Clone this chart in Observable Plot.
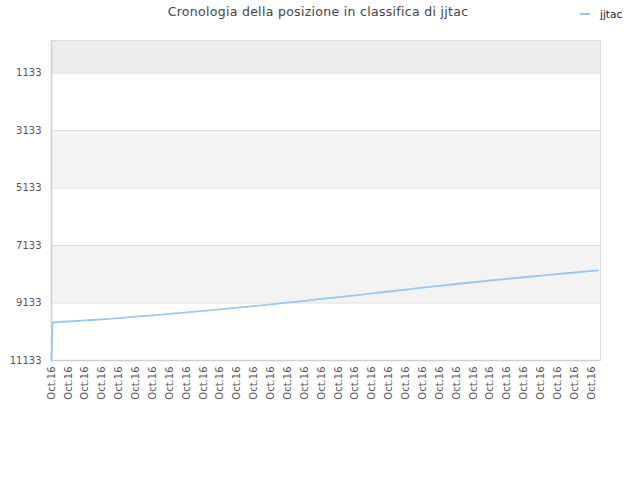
<!DOCTYPE html>
<html>
<head>
<meta charset="utf-8">
<script src="https://cdn.jsdelivr.net/npm/d3@7"></script>
<script src="https://cdn.jsdelivr.net/npm/@observablehq/plot@0.6"></script>
<style>
  body { margin: 0; background: #fff; font-family: "DejaVu Sans", sans-serif; }
  #wrap { position: relative; width: 640px; height: 480px; }
  #title { position: absolute; left: 0; width: 636px; top: 4px; text-align: center; font-size: 12.5px; color: #444; letter-spacing: 0.3px; }
  #legend { position: absolute; left: 580px; top: 8px; font-size: 10.5px; color: #222; display: flex; align-items: center; }
  #legend .sw { width: 10px; height: 2px; background: #99c7f2; margin-right: 10px; }
  #chart { position: absolute; left: 0; top: 0; }
</style>
</head>
<body>
<div id="wrap">
  <div id="chart"></div>
  <div id="title">Cronologia della posizione in classifica di jjtac</div>
  <div id="legend"><span class="sw"></span><span>jjtac</span></div>
</div>
<script>
// Series name
const seriesName = "jjtac";
// x positions (sample index) and ranks
const xIndex = [0, 0.06, 1, 2, 3, 4, 5, 6, 7, 8, 9, 10, 11, 12, 13, 14, 15, 16, 17, 18, 19, 20, 21, 22, 23, 24, 25, 26, 27, 28, 29, 30, 31, 32, 32.36];
const ranks  = [11133, 9811, 9776, 9740, 9700, 9656, 9610, 9562, 9512, 9462, 9410, 9354, 9297, 9238, 9178, 9117, 9055, 8992, 8929, 8864, 8799, 8733, 8667, 8601, 8536, 8472, 8410, 8350, 8292, 8236, 8180, 8126, 8072, 8018, 7999];
// x tick labels
const xTicks = d3.range(33);
const xTickLabels = xTicks.map(() => "Oct.16");
// y ticks
const yTicks = [1133, 3133, 5133, 7133, 9133, 11133];
// background bands
const bandStart = [0, 3133, 7133];
const bandEnd = [1133, 5133, 9133];

const data = xIndex.map((x, i) => ({x, rank: ranks[i]}));
const bands = bandStart.map((s, i) => ({y1: s, y2: bandEnd[i], top: i === 0}));

const chart = Plot.plot({
  width: 640,
  height: 480,
  marginLeft: 51,
  marginRight: 40,
  marginTop: 40,
  marginBottom: 120,
  style: {fontFamily: "DejaVu Sans, sans-serif", fontSize: "10px", color: "#555", background: "transparent"},
  x: {domain: [0, 32.53], ticks: xTicks, tickFormat: i => xTickLabels[i], tickRotate: -90, tickSize: 0, tickPadding: 6, label: null},
  y: {domain: [11133, 0], ticks: yTicks, tickFormat: d => String(d), tickSize: 0, tickPadding: 10, label: null},
  marks: [
    Plot.rectY(bands, {x1: 0, x2: 32.53, y1: "y1", y2: "y2", fill: d => d.top ? "#eeeeee" : "#f3f3f3"}),
    Plot.ruleY(yTicks, {stroke: "#dddddd", strokeWidth: 1}),
    Plot.frame({stroke: "#dddddd", strokeWidth: 1}),
    Plot.ruleX([0], {stroke: "#d0d0d0", strokeWidth: 1.5}),
    Plot.ruleY([11133], {stroke: "#d0d0d0", strokeWidth: 1.5}),
    Plot.line(data, {x: "x", y: "rank", stroke: "#99c7f2", strokeWidth: 1.8}),
    Plot.axisX({ticks: xTicks, tickFormat: i => xTickLabels[i], tickRotate: -90, tickSize: 0, tickPadding: 6, label: null, fill: "#555"}),
    Plot.axisY({ticks: yTicks, tickFormat: d => String(d), tickSize: 0, tickPadding: 10, label: null, fill: "#555"})
  ]
});
document.getElementById("chart").appendChild(chart);
</script>
</body>
</html>
